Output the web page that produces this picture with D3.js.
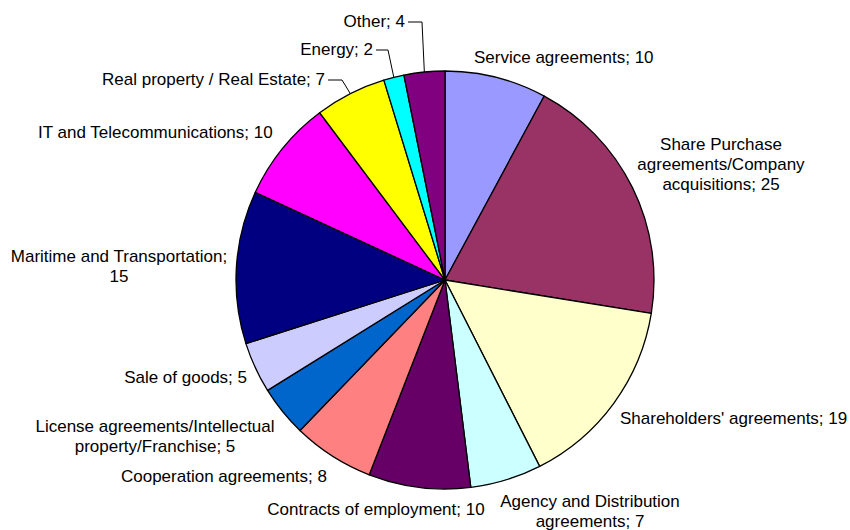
<!DOCTYPE html>
<html>
<head>
<meta charset="utf-8">
<title>Cases by area</title>
<script src="https://d3js.org/d3.v7.min.js"></script>
<style>
  body { margin: 0; background: #fff; }
  text { font-family: "Liberation Sans", Arial, sans-serif; font-size: 17px; fill: #000; }
</style>
</head>
<body>
<div id="chart"></div>
<script>
// data, clockwise from 12 o'clock
var categories = [
  "Service agreements",
  "Share Purchase\nagreements/Company\nacquisitions",
  "Shareholders' agreements",
  "Agency and Distribution\nagreements",
  "Contracts of employment",
  "Cooperation agreements",
  "License agreements/Intellectual\nproperty/Franchise",
  "Sale of goods",
  "Maritime and Transportation",
  "IT and Telecommunications",
  "Real property / Real Estate",
  "Energy",
  "Other"
];
var values = [10, 25, 19, 7, 10, 8, 5, 5, 15, 10, 7, 2, 4];
var colors = ["#9999ff", "#993366", "#ffffcc", "#ccffff", "#660066", "#ff8080",
              "#0066cc", "#ccccff", "#000080", "#ff00ff", "#ffff00", "#00ffff", "#800080"];

var width = 850, height = 530;
var cx = 445, cy = 280, radius = 209;

// label placement (baseline of first line), like the manual positions in the original
var labelLayout = [
  {x: 474, y: 63,  anchor: "start"},
  {x: 721, y: 150, anchor: "middle"},
  {x: 620, y: 424, anchor: "start"},
  {x: 590, y: 507, anchor: "middle"},
  {x: 376, y: 515, anchor: "middle"},
  {x: 327, y: 482, anchor: "end"},
  {x: 155, y: 432, anchor: "middle"},
  {x: 247, y: 383, anchor: "end"},
  {x: 119, y: 262, anchor: "middle", breakValue: true},
  {x: 38,  y: 138, anchor: "start"},
  {x: 325, y: 85,  anchor: "end", leader: 342},
  {x: 373, y: 55,  anchor: "end", leader: 388},
  {x: 405, y: 27,  anchor: "end", leader: 422}
];
var lineHeight = 20;

var svg = d3.select("#chart").append("svg")
    .attr("width", width)
    .attr("height", height);

var g = svg.append("g")
    .attr("transform", "translate(" + cx + "," + cy + ")");

var pie = d3.pie().sort(null).value(function(d) { return d; });
var arcs = pie(values);

var arc = d3.arc().innerRadius(0).outerRadius(radius);
var edge = d3.arc().innerRadius(radius).outerRadius(radius);

g.selectAll("path.slice")
  .data(arcs)
  .enter()
  .append("path")
    .attr("class", "slice")
    .attr("d", arc)
    .style("fill", function(d, i) { return colors[i]; })
    .style("stroke", "#000")
    .style("stroke-width", 1.3)
    .style("stroke-linejoin", "round");

// leader lines for the small slices at the top
arcs.forEach(function(d, i) {
  var L = labelLayout[i];
  if (!L.leader) return;
  var p = edge.centroid(d);
  var ly = L.y - 5;
  svg.append("polyline")
    .attr("points", [[L.x + 3, ly], [L.leader, ly], [cx + p[0], cy + p[1]]].join(" "))
    .style("fill", "none")
    .style("stroke", "#000")
    .style("stroke-width", 1);
});

// labels
arcs.forEach(function(d, i) {
  var L = labelLayout[i];
  var txt = categories[i] + ";" + (L.breakValue ? "\n" : " ") + values[i];
  var lines = txt.split("\n");
  var t = svg.append("text")
    .attr("x", L.x)
    .attr("y", L.y)
    .attr("text-anchor", L.anchor);
  lines.forEach(function(s, k) {
    t.append("tspan")
      .attr("x", L.x)
      .attr("dy", k === 0 ? 0 : lineHeight)
      .text(s);
  });
});
</script>
</body>
</html>
